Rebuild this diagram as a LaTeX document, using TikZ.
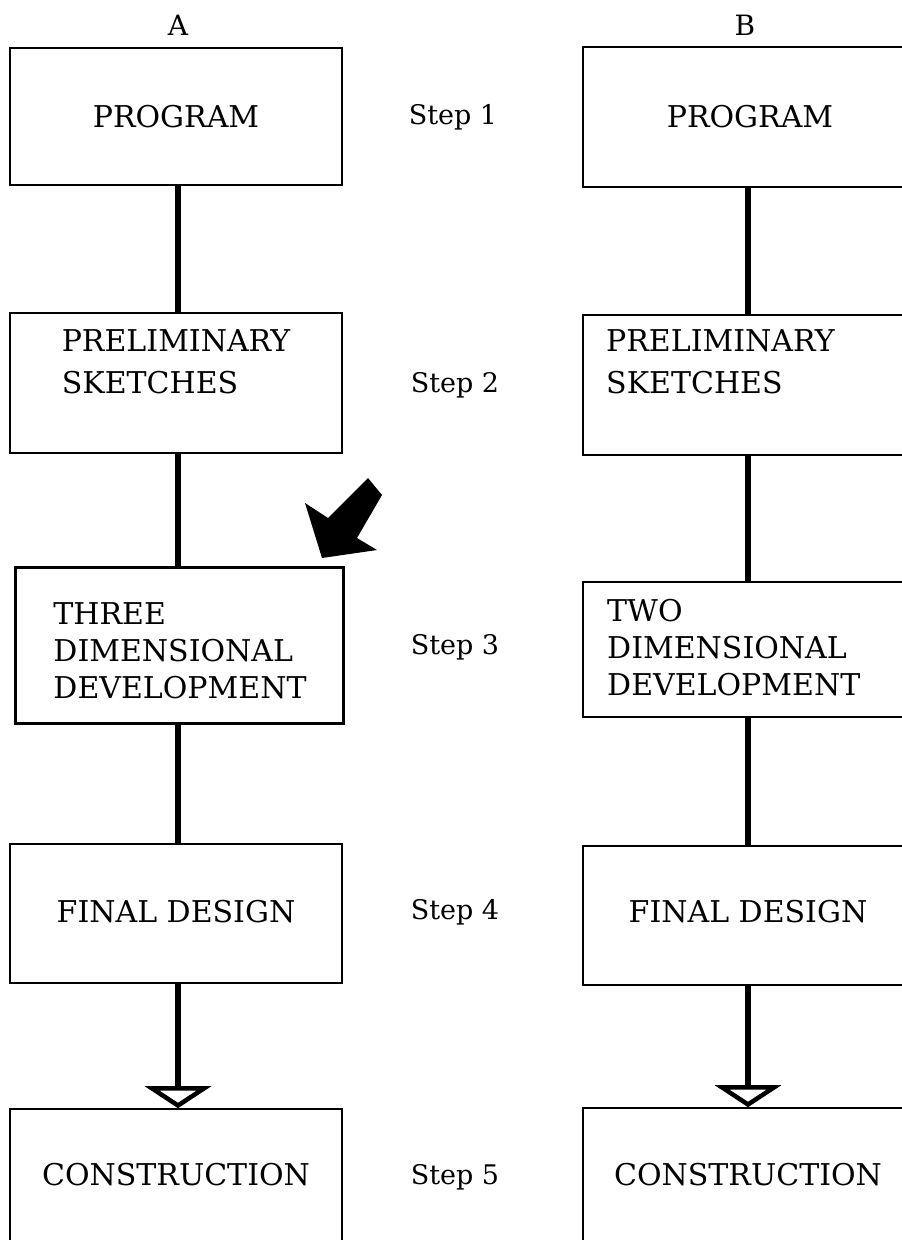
\documentclass[tikz,border=0pt]{standalone}
\usepackage{fontspec}
\setmainfont{DejaVu Serif}
\usetikzlibrary{arrows.meta}
\tikzset{
  box/.style={draw, line width=1.6pt, rectangle, inner sep=0pt},
  boldbox/.style={box, line width=3pt},
  txt/.style={inner sep=0pt, align=left, font=\fontsize{30}{37}\selectfont},
  txtwide/.style={txt, font=\fontsize{30}{42}\selectfont},
  steptxt/.style={inner sep=0pt, font=\fontsize{27}{32}\selectfont},
  head/.style={inner sep=0pt, font=\fontsize{28}{32}\selectfont},
  link/.style={line width=6pt},
  flowarrow/.style={line width=6pt, -{Triangle[open, length=22pt, width=66pt, line width=4.5pt]}}
}
\begin{document}
\begin{tikzpicture}[x=1pt,y=-1pt]
\useasboundingbox (0,0) rectangle (902,1240);
\clip (0,0) rectangle (902,1240);
% column headers
\node[head] (hA) at (178,25) {A};
\node[head] (hB) at (745,25) {B};
% column A boxes
\node[box, minimum width=332pt, minimum height=137pt] (A1) at (176,116.5) {};
\node[box, minimum width=332pt, minimum height=140pt] (A2) at (176,383) {};
\node[boldbox, minimum width=328pt, minimum height=156pt] (A3) at (179,645) {};
\node[box, minimum width=332pt, minimum height=139pt] (A4) at (176,913.5) {};
\node[box, minimum width=332pt, minimum height=160pt] (A5) at (176,1189) {};
% column B boxes
\node[box, minimum width=334pt, minimum height=140pt] (B1) at (750,117) {};
\node[box, minimum width=334pt, minimum height=140pt] (B2) at (750,385) {};
\node[box, minimum width=334pt, minimum height=135pt] (B3) at (750,649.5) {};
\node[box, minimum width=334pt, minimum height=139pt] (B4) at (750,915.5) {};
\node[box, minimum width=334pt, minimum height=160pt] (B5) at (750,1188) {};
% texts A
\node[txt] (tA1) at (A1) {PROGRAM};
\node[txtwide] (tA2) at (176,362) {PRELIMINARY\\SKETCHES};
\node[txt] (tA3) at (180,651) {THREE\\DIMENSIONAL\\DEVELOPMENT};
\node[txt] (tA4) at (176,912) {FINAL DESIGN};
\node[txt] (tA5) at (176,1175) {CONSTRUCTION};
% texts B
\node[txt] (tB1) at (750,117) {PROGRAM};
\node[txtwide, anchor=west] (tB2) at (606,362) {PRELIMINARY\\SKETCHES};
\node[txt, anchor=west] (tB3) at (607,648) {TWO\\DIMENSIONAL\\DEVELOPMENT};
\node[txt] (tB4) at (748,912) {FINAL DESIGN};
\node[txt] (tB5) at (748,1175) {CONSTRUCTION};
% steps
\node[steptxt] (s1) at (453,117) {Step 1};
\node[steptxt] (s2) at (455,385) {Step 2};
\node[steptxt] (s3) at (455,647) {Step 3};
\node[steptxt] (s4) at (455,912) {Step 4};
\node[steptxt] (s5) at (455,1177) {Step 5};
% connectors A
\draw[link] (A1.south -| 178,0) -- (A2.north -| 178,0);
\draw[link] (A2.south -| 178,0) -- (A3.north -| 178,0);
\draw[link] (A3.south -| 178,0) -- (A4.north -| 178,0);
\draw[flowarrow] (A4.south -| 178,0) -- (A5.north -| 178,0);
% connectors B
\draw[link] (B1.south -| 748,0) -- (B2.north -| 748,0);
\draw[link] (B2.south -| 748,0) -- (B3.north -| 748,0);
\draw[link] (B3.south -| 748,0) -- (B4.north -| 748,0);
\draw[flowarrow] (B4.south -| 748,0) -- (B5.north -| 748,0);
% big pointer arrow
\fill (322,558) -- (305,503) -- (328,518) -- (368,478) -- (382,495) -- (357,538) -- (377,550) -- cycle;
\end{tikzpicture}
\end{document}
